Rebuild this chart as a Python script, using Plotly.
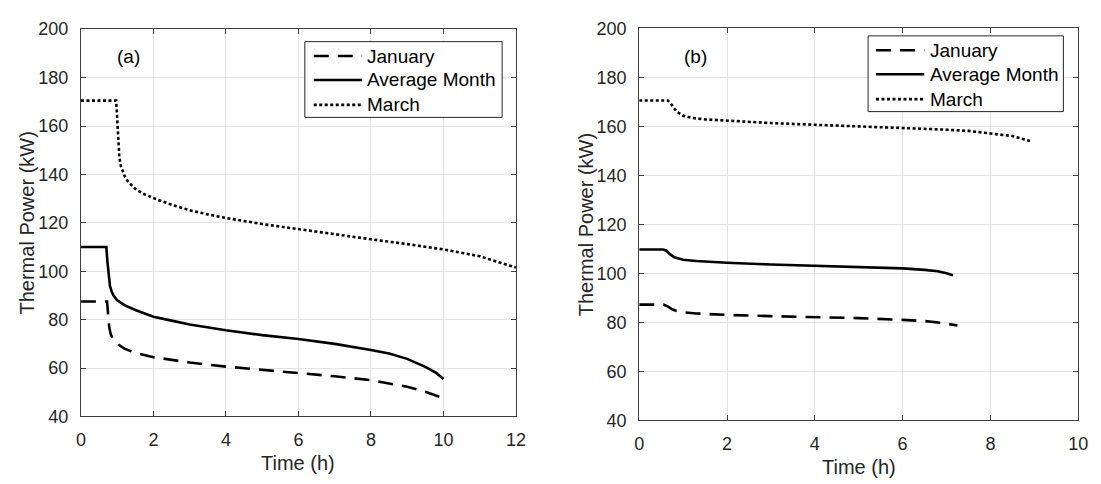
import plotly.graph_objects as go

# ---------- Data: panel (a) ----------
a_mar_t = [0, 0.97, 1.0, 1.03, 1.06, 1.1, 1.2, 1.3, 1.5, 1.75, 2, 2.5, 3, 3.5, 4, 5, 6, 7, 8, 9, 10, 11, 11.5, 12]
a_mar_p = [170.5, 170.5, 163, 153, 147, 143.5, 139.5, 137, 134, 131.8, 130.2, 127.5, 125.2, 123.5, 122, 119.5, 117.3, 115.2, 113.2, 111.2, 109, 106.2, 104, 101.5]

a_avg_t = [0, 0.7, 0.73, 0.76, 0.8, 0.85, 0.9, 1.0, 1.2, 1.5, 2, 2.5, 3, 4, 5, 6, 7, 8, 8.5, 9, 9.5, 9.8, 10]
a_avg_p = [110, 110, 104, 98, 94, 91.5, 90, 88, 86, 84, 81.2, 79.6, 78, 75.6, 73.6, 72, 70, 67.5, 66, 63.8, 60.5, 58, 55.5]

a_jan_t = [0, 0.72, 0.75, 0.78, 0.82, 0.88, 0.95, 1.05, 1.2, 1.5, 2, 3, 4, 5, 6, 7, 8, 9, 9.5, 10]
a_jan_p = [87.5, 87.5, 82, 77, 74, 72, 70.8, 69.5, 68, 66.3, 64.5, 62.3, 60.6, 59.3, 58, 56.6, 55, 52.3, 50.2, 47.5]

# ---------- Data: panel (b) ----------
b_mar_t = [0, 0.65, 0.75, 0.85, 1.0, 1.2, 1.5, 2, 3, 4, 5, 6, 7, 7.5, 8, 8.5, 8.9]
b_mar_p = [170.5, 170.5, 168.5, 166, 164.3, 163.4, 162.8, 162.2, 161.3, 160.6, 160, 159.4, 158.6, 158.1, 157.2, 156, 154]

b_avg_t = [0, 0.55, 0.62, 0.7, 0.8, 0.9, 1.0, 1.3, 1.6, 2, 3, 4, 5, 6, 6.5, 6.8, 7.0, 7.15]
b_avg_p = [109.7, 109.7, 109.2, 107.8, 106.5, 105.9, 105.5, 105, 104.6, 104.3, 103.6, 103.1, 102.7, 102, 101.4, 100.8, 100, 99.2]

b_jan_t = [0, 0.55, 0.65, 0.75, 0.85, 1.0, 1.3, 2, 3, 4, 5, 6, 6.5, 6.9, 7.25]
b_jan_p = [87.2, 87.2, 86.5, 85.3, 84.6, 84.1, 83.6, 83.0, 82.5, 82.2, 81.7, 81.0, 80.5, 79.7, 78.7]

series_names = ["January", "Average Month", "March"]
panel_labels = ["(a)", "(b)"]
x_title = "Time (h)"
y_title = "Thermal Power (kW)"
x_ticks_a = [0, 2, 4, 6, 8, 10, 12]
x_ticks_b = [0, 2, 4, 6, 8, 10]
y_ticks = [40, 60, 80, 100, 120, 140, 160, 180, 200]

dash_jan = "15px,9px"
dash_mar = "3px,2.5px"
dashes = [dash_jan, "solid", dash_mar]
lw = 2.6

W, H = 1101, 484
axcol = "#262626"
font_family = "Liberation Sans, Arial, sans-serif"

fig = go.Figure()

def add(xs, ys, name, dash, xa, ya):
    fig.add_trace(go.Scatter(x=xs, y=ys, mode="lines", name=name,
                             line=dict(color="black", width=lw, dash=dash),
                             xaxis=xa, yaxis=ya, showlegend=False))

add(a_jan_t, a_jan_p, series_names[0], dash_jan, "x", "y")
add(a_avg_t, a_avg_p, series_names[1], "solid", "x", "y")
add(a_mar_t, a_mar_p, series_names[2], dash_mar, "x", "y")
add(b_jan_t, b_jan_p, series_names[0], dash_jan, "x2", "y2")
add(b_avg_t, b_avg_p, series_names[1], "solid", "x2", "y2")
add(b_mar_t, b_mar_p, series_names[2], dash_mar, "x2", "y2")

def xaxis(dom, rng, ticks, anchor):
    return dict(domain=dom, range=rng, tickvals=ticks, anchor=anchor,
                showline=True, linecolor="#404040", linewidth=1, mirror="ticks",
                ticks="inside", ticklen=5, tickcolor="#404040", ticklabelstandoff=7,
                showgrid=True, gridcolor="#e3e3e3", gridwidth=1, zeroline=False,
                tickfont=dict(size=18, color=axcol, family=font_family))

def yaxis(dom, anchor):
    return dict(domain=dom, range=[40, 200], tickvals=y_ticks, anchor=anchor,
                showline=True, linecolor="#404040", linewidth=1, mirror="ticks",
                ticks="inside", ticklen=5, tickcolor="#404040", ticklabelstandoff=8,
                showgrid=True, gridcolor="#e3e3e3", gridwidth=1, zeroline=False,
                tickfont=dict(size=18, color=axcol, family=font_family))

def px_x(p):
    return p / W

def px_y(p):
    return 1 - p / H

# panel geometry in pixels: (left, right, top, bottom)
panels = [(77, 518, 20, 424), (643, 1088, 19, 428)]

# custom legend boxes (pixel geometry of the box, sample lines, text)
legend_geo = [
    dict(box=(304, 33, 504, 112), x0=313, x1=362, tx=365, rows=[48, 73, 99]),
    dict(box=(875, 27, 1073, 106), x0=883, x1=932, tx=936, rows=[42, 67, 93]),
]

shapes = []
annotations = []
for g in legend_geo:
    bx0, by0, bx1, by1 = g["box"]
    shapes.append(dict(type="rect", xref="paper", yref="paper",
                       x0=px_x(bx0), x1=px_x(bx1), y0=px_y(by1), y1=px_y(by0),
                       line=dict(color="#262626", width=1), fillcolor="white", layer="above"))
    for name, dash, ry in zip(series_names, dashes, g["rows"]):
        shapes.append(dict(type="line", xref="paper", yref="paper",
                           x0=px_x(g["x0"]), x1=px_x(g["x1"]), y0=px_y(ry), y1=px_y(ry),
                           line=dict(color="black", width=lw, dash=dash), layer="above"))
        annotations.append(dict(text=name, xref="paper", yref="paper",
                                x=px_x(g["tx"]), y=px_y(ry), xanchor="left", yanchor="middle",
                                showarrow=False, font=dict(size=19, color="black", family=font_family)))

for lab, (lx, ly) in zip(panel_labels, [(125, 48), (700, 48)]):
    annotations.append(dict(text=lab, xref="paper", yref="paper", x=px_x(lx), y=px_y(ly),
                            xanchor="center", yanchor="middle",
                            showarrow=False, font=dict(size=19, color="black", family=font_family)))

for (l, r, t, b), ytx in zip(panels, [22, 589]):
    annotations.append(dict(text=x_title, xref="paper", yref="paper", x=px_x((l + r) / 2), y=px_y(b + 49),
                            xanchor="center", yanchor="middle",
                            showarrow=False, font=dict(size=20, color=axcol, family=font_family)))
    annotations.append(dict(text=y_title, xref="paper", yref="paper", x=px_x(ytx), y=px_y((t + b) / 2),
                            xanchor="center", yanchor="middle", textangle=-90,
                            showarrow=False, font=dict(size=20, color=axcol, family=font_family)))

(l1, r1, t1, b1), (l2, r2, t2, b2) = panels
fig.update_layout(
    width=W, height=H,
    margin=dict(l=0, r=0, t=0, b=0),
    paper_bgcolor="white", plot_bgcolor="white",
    font=dict(family=font_family, color=axcol),
    showlegend=False,
    xaxis=xaxis([px_x(l1), px_x(r1)], [0, 12], x_ticks_a, "y"),
    yaxis=yaxis([px_y(b1), px_y(t1)], "x"),
    xaxis2=xaxis([px_x(l2), px_x(r2)], [0, 10], x_ticks_b, "y2"),
    yaxis2=yaxis([px_y(b2), px_y(t2)], "x2"),
    shapes=shapes,
    annotations=annotations,
)

fig.write_html("out.html", config={"displayModeBar": False},
               post_script="document.body.style.margin='0px';")
